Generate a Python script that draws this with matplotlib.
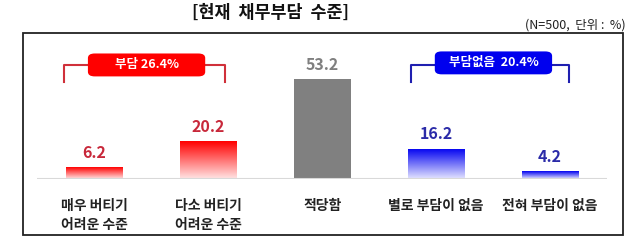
import numpy as np
import matplotlib
matplotlib.use("Agg")
import matplotlib.pyplot as plt
from matplotlib.colors import LinearSegmentedColormap
from matplotlib.patches import Rectangle, FancyBboxPatch

plt.rcParams['font.family'] = ['Noto Sans CJK KR', 'DejaVu Sans']

# data
categories = ["매우 버티기\n어려운 수준", "다소 버티기\n어려운 수준", "적당함", "별로 부담이 없음", "전혀 부담이 없음"]
values = [6.2, 20.2, 53.2, 16.2, 4.2]
groups = ["red", "red", "grey", "blue", "blue"]
title = "[현재  채무부담  수준]"
note = "(N=500,  단위 :  %)"
group_labels = ["부담 26.4%", "부담없음  20.4%"]

W, H = 628, 243
fig = plt.figure(figsize=(W / 100, H / 100), dpi=100)

def fx(px):
    return px / W

def fy(py):
    return 1 - py / H

# outer frame
fig.patches.append(Rectangle((fx(23), fy(235)), fx(600), (235 - 33) / H,
                             transform=fig.transFigure, fill=False,
                             edgecolor="#222222", linewidth=1.3))

fig.text(fx(270), fy(13), title, ha="center", va="center", fontsize=12.5,
         fontweight="bold", color="#111111")
fig.text(fx(626), fy(25), note, ha="right", va="center", fontsize=9,
         color="#222222")

ax = fig.add_axes([fx(37), fy(179), fx(570), (179 - 33) / H])
ax.set_xlim(-0.505, 4.5)
ax.set_ylim(0, 77.7)
ax.axis("off")

cmaps = {
    "red": LinearSegmentedColormap.from_list("r", ["#FFE6E6", "#FF0000"]),
    "blue": LinearSegmentedColormap.from_list("b", ["#E6E6FF", "#0000F0"]),
}
label_colors = {"red": "#C8283A", "blue": "#2B2BA8", "grey": "#7F7F7F"}

x = np.arange(len(values))
bars = ax.bar(x, values, width=0.5, color="#808080", linewidth=0, zorder=2)
grad = np.linspace(0, 1, 256).reshape(-1, 1)
for b, g in zip(bars, groups):
    if g in cmaps:
        b.set_facecolor("none")
        im = ax.imshow(grad, cmap=cmaps[g], aspect="auto", origin="lower",
                       extent=[b.get_x(), b.get_x() + b.get_width(), 0, b.get_height()],
                       zorder=2)
        im.set_clip_path(b)

ax.set_xlim(-0.505, 4.5)
ax.set_ylim(0, 77.7)

for xi, v, g in zip(x, values, groups):
    ax.text(xi, v + 7.5, f"{v}", ha="center", va="center", fontsize=11.5,
            fontweight="bold", color=label_colors[g])

ax.axhline(0, color="#D9D9D9", linewidth=1.5, zorder=3)

for xi, c in zip(x, categories):
    ax.text(xi, -10.5, c, ha="center", va="top", fontsize=10, fontweight="bold",
            color="#222222", linespacing=1.5)

# group brackets
brackets = [(-0.268, 1.146, 0.457, 60.7, "#D0303A", "#FF0000"),
            (2.779, 4.166, 3.503, 61.8, "#1F1FB0", "#0000EE")]
bw, bh = 1.03, 12.2
for (x0, x1, xc, yc, lc, fc), lab in zip(brackets, group_labels):
    ax.plot([x0, x0, x1, x1], [51.6, 60.6, 60.6, 51.6], color=lc, linewidth=1.5,
            zorder=3, clip_on=False)
    ax.add_patch(FancyBboxPatch((xc - bw / 2, yc - bh / 2), bw, bh,
                                boxstyle="round,pad=0,rounding_size=0.06",
                                mutation_aspect=40, fc=fc, ec="none", zorder=4))
    ax.text(xc, yc, lab, ha="center", va="center", fontsize=9,
            fontweight="bold", color="white", zorder=5)

fig.savefig("out.png", dpi=100)
